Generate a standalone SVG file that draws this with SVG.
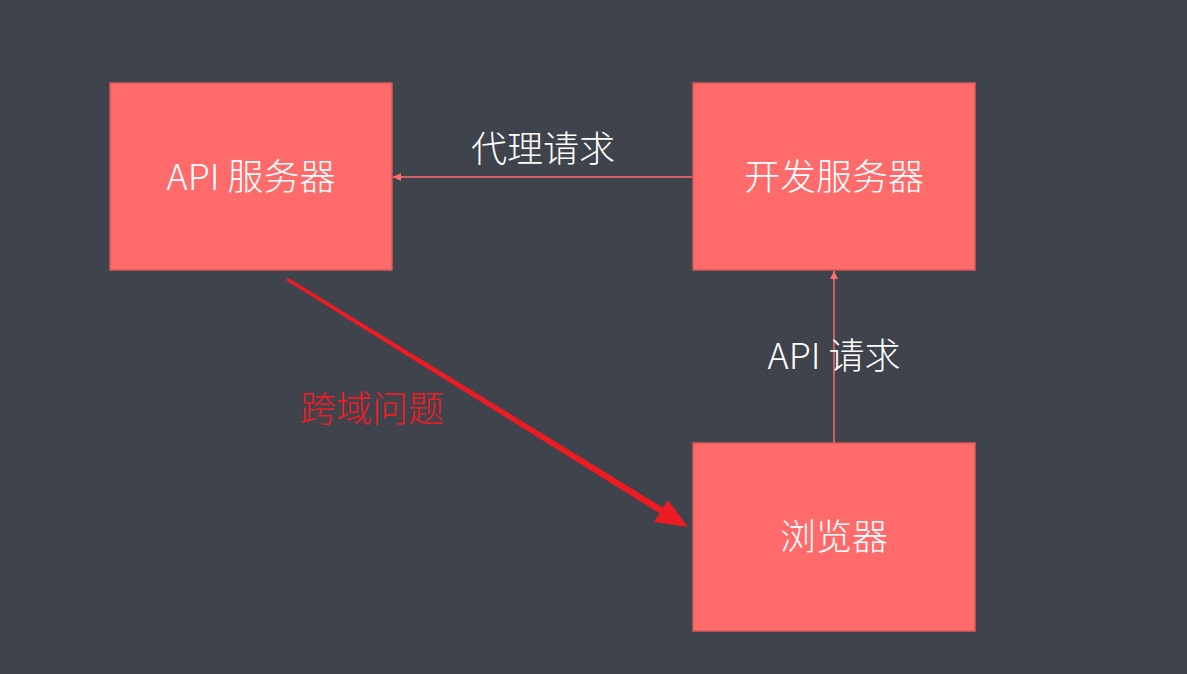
<svg xmlns="http://www.w3.org/2000/svg" width="1187" height="674" viewBox="0 0 1187 674">
<style>
.box{fill:#ff6b6b;stroke:#d95858;stroke-width:1.5}
.t{font-family:"Noto Sans CJK SC","Noto Sans",sans-serif;font-size:36px;font-weight:300;fill:#ffffff;text-anchor:middle}
.c{stroke:#ff6b6b;stroke-width:1.5;fill:none}
</style>
<defs>
<marker id="ah" viewBox="0 0 10 10" refX="10" refY="5" markerWidth="8" markerHeight="8" markerUnits="userSpaceOnUse" orient="auto"><path d="M0,0L10,5L0,10z" fill="#ff6b6b"/></marker>
</defs>
<rect width="1187" height="674" fill="#3f434b"/>
<g id="connectors">
<line class="c" x1="693" y1="177" x2="393" y2="177" marker-end="url(#ah)"/>
<line class="c" x1="834" y1="443" x2="834" y2="271" marker-end="url(#ah)"/>
<polygon points="287.8,277.5 663.8,508.2 660.2,513.8 286.2,280.5" fill="#ed1c24"/>
<polygon points="688,527 668,500 654,522" fill="#ed1c24"/>
<text class="t" x="543" y="162">代理请求</text>
<text class="t" x="834" y="369">API 请求</text>
<text class="t" x="372" y="422" style="fill:#ed1c24">跨域问题</text>
</g>
<g id="api-server">
<rect class="box" x="110" y="83" width="282" height="187"/>
<text class="t" x="251" y="190">API 服务器</text>
</g>
<g id="dev-server">
<rect class="box" x="693" y="83" width="282" height="187"/>
<text class="t" x="834" y="190">开发服务器</text>
</g>
<g id="browser">
<rect class="box" x="693" y="443" width="282" height="188"/>
<text class="t" x="834" y="550">浏览器</text>
</g>
</svg>
